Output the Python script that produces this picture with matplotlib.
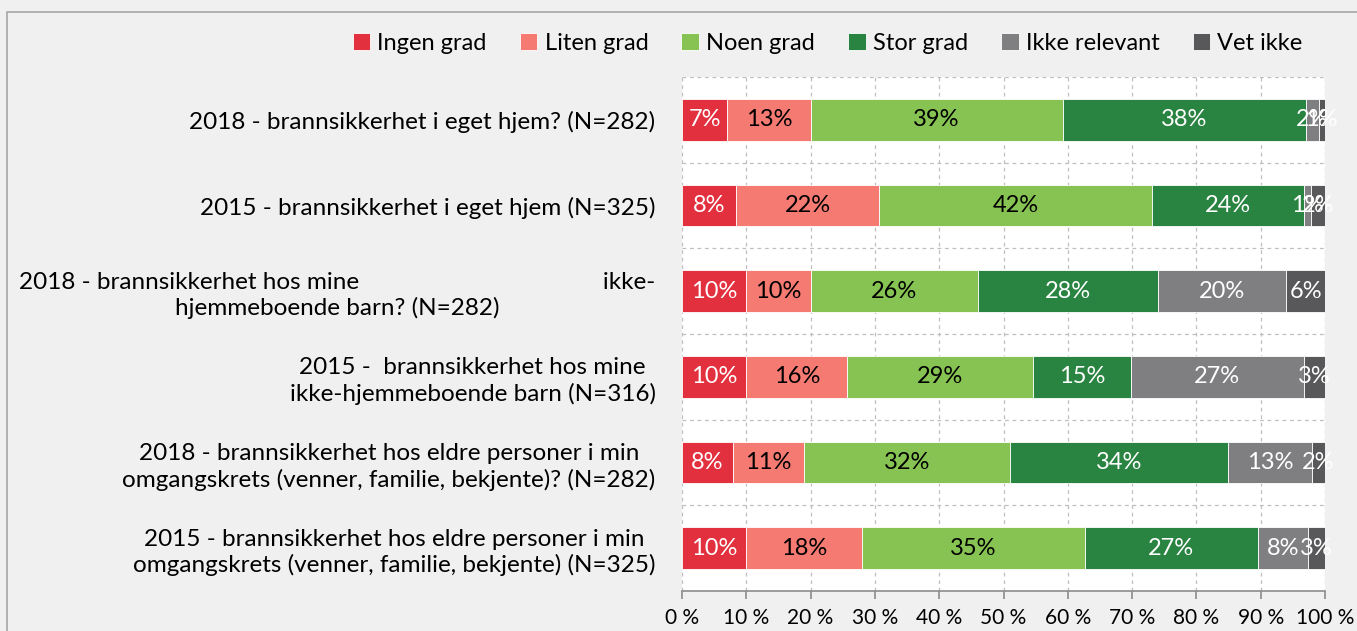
import matplotlib
matplotlib.use("Agg")
import matplotlib.pyplot as plt
from matplotlib.patches import Rectangle
import numpy as np

plt.rcParams['font.family'] = ['Lato', 'DejaVu Sans']

categories = [
    "2018 - brannsikkerhet i eget hjem? (N=282)",
    "2015 - brannsikkerhet i eget hjem (N=325)",
    "2018 - brannsikkerhet hos mine                                       ikke-\nhjemmeboende barn? (N=282)",
    "2015 -  brannsikkerhet hos mine\nikke-hjemmeboende barn (N=316)",
    "2018 - brannsikkerhet hos eldre personer i min\nomgangskrets (venner, familie, bekjente)? (N=282)",
    "2015 - brannsikkerhet hos eldre personer i min\nomgangskrets (venner, familie, bekjente) (N=325)",
]
series_names = ["Ingen grad", "Liten grad", "Noen grad", "Stor grad", "Ikke relevant", "Vet ikke"]
ingen_grad    = [7.0, 8.4, 10.0, 10.0, 7.9, 10.0]
liten_grad    = [13.0, 22.3, 10.0, 15.7, 11.1, 18.0]
noen_grad     = [39.2, 42.4, 26.0, 28.9, 32.0, 34.6]
stor_grad     = [37.8, 23.6, 28.0, 15.2, 33.9, 27.0]
ikke_relevant = [2.0, 1.1, 20.0, 26.9, 13.1, 7.8]
vet_ikke      = [1.0, 2.2, 6.0, 3.3, 2.0, 2.6]
colors = ["#E3303F", "#F47A72", "#86C352", "#2A8441", "#7F7F82", "#58585A"]
text_colors = ["white", "black", "black", "white", "white", "white"]
xtick_labels = ["0 %", "10 %", "20 %", "30 %", "40 %", "50 %", "60 %", "70 %", "80 %", "90 %", "100 %"]

data = [ingen_grad, liten_grad, noen_grad, stor_grad, ikke_relevant, vet_ikke]

fig = plt.figure(figsize=(13.57, 6.31), dpi=100, facecolor="#F0F0F0")
# outer border (cropped at right/bottom)
fig.patches.append(Rectangle((7/1357, -0.1), 1.2, 1 - 12/631 + 0.1, transform=fig.transFigure,
                             fill=False, edgecolor="#A6A6A6", linewidth=1.2))

ax = fig.add_axes([682/1357, 40/631, (1325-682)/1357, (591-77)/631])
ax.set_facecolor("white")

y = np.arange(len(categories))
left = np.zeros(len(categories))
for vals, name, col, tcol in zip(data, series_names, colors, text_colors):
    vals = np.array(vals)
    ax.barh(y, vals, left=left, height=0.49, color=col, edgecolor="white",
            linewidth=0.6, label=name, zorder=3)
    for yi, l, v in zip(y, left, vals):
        ax.text(l + v / 2, yi, f"{v:.0f}%", ha="center", va="center", color=tcol,
                fontsize=17, zorder=4)
    left += vals

ax.set_xlim(0, 100)
ax.set_ylim(len(categories) - 0.5, -0.5)
ax.set_yticks(y)
ax.set_yticklabels(categories, fontsize=17.5, multialignment="center", linespacing=1.25)
ax.tick_params(axis="y", length=0, pad=19)
ax.set_xticks(np.arange(0, 101, 10))
ax.set_xticklabels(xtick_labels, fontsize=15)
ax.tick_params(axis="x", length=6, color="#8C8C8C", width=1.2, pad=6)

ax.set_yticks(np.arange(-0.5, len(categories), 1), minor=True)
ax.tick_params(axis="y", which="minor", length=0)
ax.grid(axis="x", which="major", linestyle=(0, (3, 3)), color="#BFBFBF", linewidth=0.9, zorder=0)
ax.grid(axis="y", which="minor", linestyle=(0, (3, 3)), color="#BFBFBF", linewidth=0.9, zorder=0)
ax.grid(axis="y", which="major", visible=False)
for s in ["top", "right", "left"]:
    ax.spines[s].set_visible(False)
ax.spines["bottom"].set_color("#8C8C8C")
ax.spines["bottom"].set_linewidth(1.2)

handles, labels = ax.get_legend_handles_labels()
fig.legend(handles, labels, loc="center right", bbox_to_anchor=(1312/1357, 1 - 43/631), ncol=6,
           frameon=False, fontsize=17, handlelength=0.75, handleheight=0.75, handletextpad=0.3,
           columnspacing=1.4, borderaxespad=0)

fig.savefig("out.png", dpi=100, facecolor=fig.get_facecolor())
